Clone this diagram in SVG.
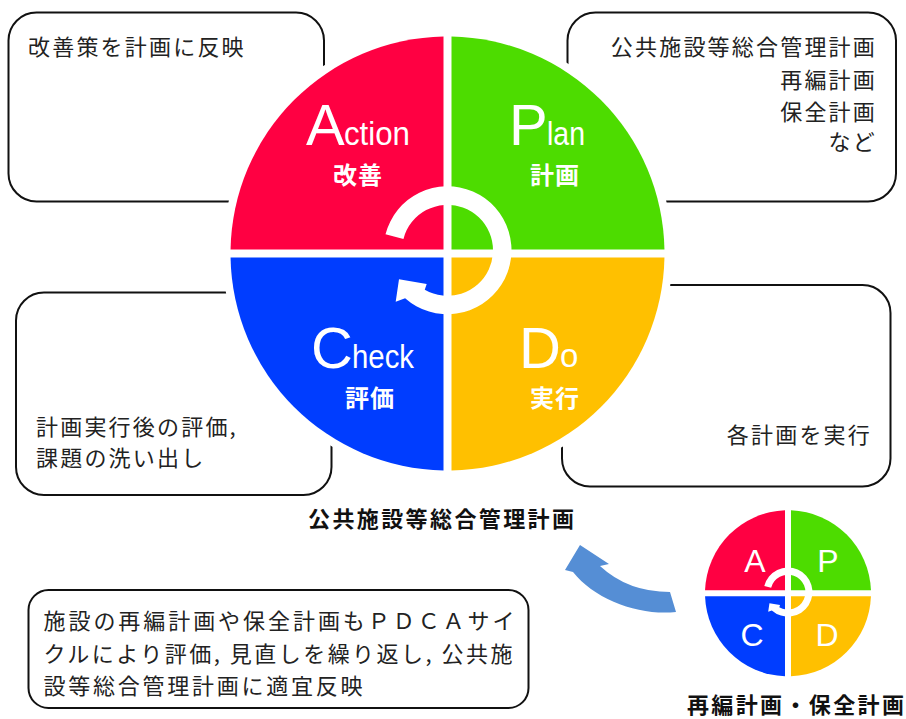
<svg xmlns="http://www.w3.org/2000/svg" xmlns:xlink="http://www.w3.org/1999/xlink" width="906" height="719" viewBox="0 0 906 719">
<style>
.box{fill:#fff;stroke:#111;stroke-width:2}
.t{font-family:"Noto Sans CJK JP","Noto Sans CJK SC",sans-serif;font-size:22px;fill:#222;letter-spacing:2.2px}
.tb{font-family:"Noto Sans CJK JP","Noto Sans CJK SC",sans-serif;font-size:22px;font-weight:bold;fill:#111}
.big{font-family:"Liberation Sans",Arial,sans-serif;font-size:58px;fill:#fff}
.sm{font-family:"Liberation Sans",Arial,sans-serif;font-size:33px;fill:#fff}
.jl{font-family:"Noto Sans CJK JP","Noto Sans CJK SC",sans-serif;font-size:24px;font-weight:bold;fill:#fff;text-anchor:middle;letter-spacing:1px}
.ml{font-family:"Liberation Sans",Arial,sans-serif;font-size:32px;fill:#fff;text-anchor:middle}
.red{fill:#FF0042}.grn{fill:#4DDC00}.yel{fill:#FFC000}.blu{fill:#003DFF}
</style>
<defs>
<path id="ring" fill="#fff" d="M-62,-19.2 A64 64 0 1 1 -42.4,44.7 L-51.8,48.2 L-48.5,25.8 L-20.8,30.5 L-22.75,36.2 A45.5 45.5 0 1 0 -44.05,-14.6 Z"/>
</defs>
<g id="box-action">
<rect class="box" x="8.5" y="12.5" width="315.5" height="189" rx="28"/>
<text class="t" x="28" y="55">改善策を計画に反映</text>
</g>
<g id="box-plan">
<rect class="box" x="567.5" y="12.5" width="328.5" height="189" rx="28"/>
<text class="t" text-anchor="end"><tspan x="877" y="55">公共施設等総合管理計画</tspan><tspan x="877" y="87.5">再編計画</tspan><tspan x="877" y="119.5">保全計画</tspan><tspan x="877" y="150">など</tspan></text>
</g>
<g id="box-check">
<rect class="box" x="16" y="292.5" width="315.5" height="202.5" rx="28"/>
<text class="t" x="36" y="435">計画実行後の評価,</text>
<text class="t" x="36" y="466">課題の洗い出し</text>
</g>
<g id="box-do">
<rect class="box" x="562" y="285" width="328.5" height="201.5" rx="28"/>
<text class="t" x="872" y="443" text-anchor="end">各計画を実行</text>
</g>
<g id="pdca-main">
<circle cx="447.5" cy="253.5" r="225" fill="#fff"/>
<path class="red" d="M443.5,249.5 L443.5,36.54 A217 217 0 0 0 230.54,249.5 Z"/>
<path class="grn" d="M451.5,249.5 L664.46,249.5 A217 217 0 0 0 451.5,36.54 Z"/>
<path class="yel" d="M451.5,257.5 L451.5,470.46 A217 217 0 0 0 664.46,257.5 Z"/>
<path class="blu" d="M443.5,257.5 L230.54,257.5 A217 217 0 0 0 443.5,470.46 Z"/>
<use xlink:href="#ring" transform="translate(447.5,253.5)"/>
<text class="big" x="306" y="145">A</text><text class="sm" x="344" y="145" textLength="66" lengthAdjust="spacingAndGlyphs">ction</text>
<text class="jl" x="358" y="184">改善</text>
<text class="big" x="509" y="145">P</text><text class="sm" x="547" y="145" textLength="38" lengthAdjust="spacingAndGlyphs">lan</text>
<text class="jl" x="555" y="184">計画</text>
<text class="big" x="311" y="368">C</text><text class="sm" x="352" y="368" textLength="62" lengthAdjust="spacingAndGlyphs">heck</text>
<text class="jl" x="370" y="407">評価</text>
<text class="big" x="519" y="368">D</text><text class="sm" x="560" y="367">o</text>
<text class="jl" x="555" y="407">実行</text>
</g>
<g id="title-main">
<text class="tb" x="308" y="527" textLength="266" lengthAdjust="spacing">公共施設等総合管理計画</text>
</g>
<g id="pdca-mini">
<path class="red" d="M785,590.3 L785,510.35 A83 83 0 0 0 705.05,590.3 Z"/>
<path class="grn" d="M791,590.3 L870.95,590.3 A83 83 0 0 0 791,510.35 Z"/>
<path class="yel" d="M791,596.3 L791,676.25 A83 83 0 0 0 870.95,596.3 Z"/>
<path class="blu" d="M785,596.3 L705.05,596.3 A83 83 0 0 0 785,676.25 Z"/>
<use xlink:href="#ring" transform="translate(788,593.3) scale(0.3825)"/>
<text class="ml" x="755" y="572">A</text>
<text class="ml" x="828" y="572">P</text>
<text class="ml" x="752" y="646">C</text>
<text class="ml" x="827" y="646">D</text>
<text class="tb" x="687" y="713" textLength="217" lengthAdjust="spacing">再編計画・保全計画</text>
</g>
<g id="note-box">
<rect class="box" x="28.5" y="590" width="500" height="118" rx="20"/>
<text class="t" style="letter-spacing:0" x="43.5" y="628.5" textLength="471" lengthAdjust="spacing">施設の再編計画や保全計画もＰＤＣＡサイ</text>
<text class="t" style="letter-spacing:0" x="43.5" y="662" textLength="469" lengthAdjust="spacing">クルにより評価, 見直しを繰り返し, 公共施</text>
<text class="t" style="letter-spacing:0" x="43.5" y="694" textLength="319" lengthAdjust="spacing">設等総合管理計画に適宜反映</text>
</g>
<g id="connectors">
<path id="feedback-arrow" fill="#558ED5" d="M580,545 L609,564 L600,566 Q628,592 670,592 L676,612 C640,616 595,600 573,572 L565,570 Z"/>
</g>
</svg>
